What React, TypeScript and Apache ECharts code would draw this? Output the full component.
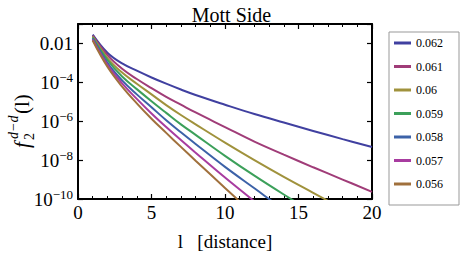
import React, { useEffect, useRef } from "react";
import * as echarts from "echarts";

const FONT = "Liberation Serif";

const distances = [1, 2, 3, 4, 5, 6, 7, 8, 10, 12, 14, 16, 18, 20];

const seriesNames = ["0.062", "0.061", "0.06", "0.059", "0.058", "0.057", "0.056"];
const seriesColors = ["#4040a0", "#a03c78", "#a0923c", "#3ca05a", "#3c62a8", "#a83ca0", "#a0703c"];

const f062 = [2.82e-2, 3.31e-3, 9.33e-4, 3.98e-4, 1.78e-4, 8.51e-5, 4.27e-5, 2.24e-5, 7.08e-6, 2.34e-6, 8.51e-7, 3.16e-7, 1.2e-7, 4.68e-8];
const f061 = [2.51e-2, 2.51e-3, 5.01e-4, 1.48e-4, 5.01e-5, 1.78e-5, 7.08e-6, 2.82e-6, 5.01e-7, 8.91e-8, 1.91e-8, 4.27e-9, 1.0e-9, 2.34e-10];
const f060 = [2.24e-2, 1.78e-3, 3.16e-4, 8.51e-5, 2.4e-5, 6.76e-6, 2.09e-6, 6.92e-7, 7.94e-8, 1.0e-8, 1.38e-9, 2.09e-10, 3.16e-11, 5.01e-12];
const f059 = [2.0e-2, 1.41e-3, 2.0e-4, 4.47e-5, 1.07e-5, 2.69e-6, 6.92e-7, 2.0e-7, 1.66e-8, 1.58e-9, 1.7e-10, 2.0e-11, 2.24e-12, 2.51e-13];
const f058 = [1.78e-2, 1.0e-3, 1.26e-4, 2.4e-5, 5.25e-6, 1.12e-6, 2.69e-7, 6.76e-8, 4.47e-9, 3.55e-10, 2.82e-11, 2.51e-12, 2.24e-13, 2.0e-14];
const f057 = [1.58e-2, 7.94e-4, 8.91e-5, 1.41e-5, 2.51e-6, 5.01e-7, 1.07e-7, 2.4e-8, 1.26e-9, 7.59e-11, 5.01e-12, 3.16e-13, 2.0e-14, 1.26e-15];
const f056 = [1.41e-2, 6.31e-4, 6.03e-5, 8.32e-6, 1.35e-6, 2.51e-7, 4.79e-8, 9.33e-9, 3.72e-10, 1.51e-11, 6.31e-13, 2.51e-14, 1.0e-15, 5.01e-17];

const seriesValues = [f062, f061, f060, f059, f058, f057, f056];

const xTicks = { min: 0, max: 20, interval: 5 };
const yRange = { min: 1e-10, max: 1e-1 };

function yLabel(v: number): string {
  const e = Math.round(Math.log10(v));
  if (e % 2 !== 0) return "";
  if (e === -2) return "{b|0.01}";
  return "{b|10}{sup|−" + Math.abs(e) + "}";
}

export default function App() {
  const ref = useRef<HTMLDivElement>(null);
  useEffect(() => {
    document.body.style.margin = "0";
    if (!ref.current) return;
    const chart = echarts.init(ref.current, null, { renderer: "svg" });
    const axisLine = { show: true, onZero: false, lineStyle: { color: "#000", width: 2 } };
    const axisTick = { show: true, inside: true, length: 5, lineStyle: { color: "#000", width: 1.2 } };
    const minorTick = { show: true, splitNumber: 5, length: 3, lineStyle: { color: "#000", width: 1 } };
    const baseX = {
      type: "value",
      min: xTicks.min,
      max: xTicks.max,
      interval: xTicks.interval,
      axisLine,
      axisTick,
      minorTick,
      splitLine: { show: false },
    };
    const baseY = {
      type: "log",
      logBase: 10,
      min: yRange.min,
      max: yRange.max,
      interval: 2,
      axisLine,
      axisTick,
      splitLine: { show: false },
      minorSplitLine: { show: false },
    };
    chart.setOption({
      animation: false,
      textStyle: { fontFamily: FONT },
      title: {
        text: "Mott Side",
        left: "center",
        top: 0,
        textStyle: { fontFamily: FONT, fontSize: 20, fontWeight: "normal", color: "#000" },
      },
      grid: { left: 78, right: 91, top: 24, bottom: 50, containLabel: false },
      legend: {
        orient: "vertical",
        left: 389,
        top: 32,
        padding: [5, 16, 15, 5],
        itemWidth: 17,
        itemHeight: 3,
        itemGap: 11.5,
        itemTextGap: 2,
        icon: "rect",
        borderColor: "#999",
        borderWidth: 1,
        textStyle: { fontFamily: FONT, fontSize: 12, color: "#000" },
        data: seriesNames,
      },
      xAxis: [
        {
          ...baseX,
          position: "bottom",
          axisLabel: { fontFamily: FONT, fontSize: 19, color: "#000", margin: 4 },
          name: "l   [distance]",
          nameLocation: "middle",
          nameGap: 33,
          nameTextStyle: { fontFamily: FONT, fontSize: 19, color: "#000" },
        },
        { ...baseX, position: "top", axisLabel: { show: false } },
      ],
      yAxis: [
        {
          ...baseY,
          position: "left",
          axisLabel: {
            color: "#000",
            margin: 5,
            formatter: yLabel,
            rich: {
              b: { fontFamily: FONT, fontSize: 19, color: "#000" },
              sup: { fontFamily: FONT, fontSize: 13, color: "#000", verticalAlign: "top", padding: [0, 0, 10, 0] },
            },
          },
        },
        { ...baseY, position: "right", axisLabel: { show: false } },
      ],
      graphic: [
        {
          type: "group",
          x: 22,
          y: 108,
          rotation: Math.PI / 2,
          children: [
            { type: "text", x: -40, y: 0, style: { text: "f", font: "italic 21px " + FONT, fill: "#000", textVerticalAlign: "middle" } },
            { type: "text", x: -31, y: -9, style: { text: "d−d", font: "italic 14px " + FONT, fill: "#000", textVerticalAlign: "middle" } },
            { type: "text", x: -32, y: 7, style: { text: "2", font: "14px " + FONT, fill: "#000", textVerticalAlign: "middle" } },
            { type: "text", x: -6, y: 0, style: { text: "(l)", font: "21px " + FONT, fill: "#000", textVerticalAlign: "middle" } },
          ],
        },
      ],
      series: seriesNames.map((name, i) => ({
        name,
        type: "line",
        data: distances.map((d, j) => [d, seriesValues[i][j]]),
        smooth: 0.4,
        symbol: "none",
        clip: true,
        color: seriesColors[i],
        lineStyle: { width: 2, color: seriesColors[i] },
      })),
    });
    return () => chart.dispose();
  }, []);
  return <div ref={ref} style={{ width: 463, height: 256 }} />;
}
